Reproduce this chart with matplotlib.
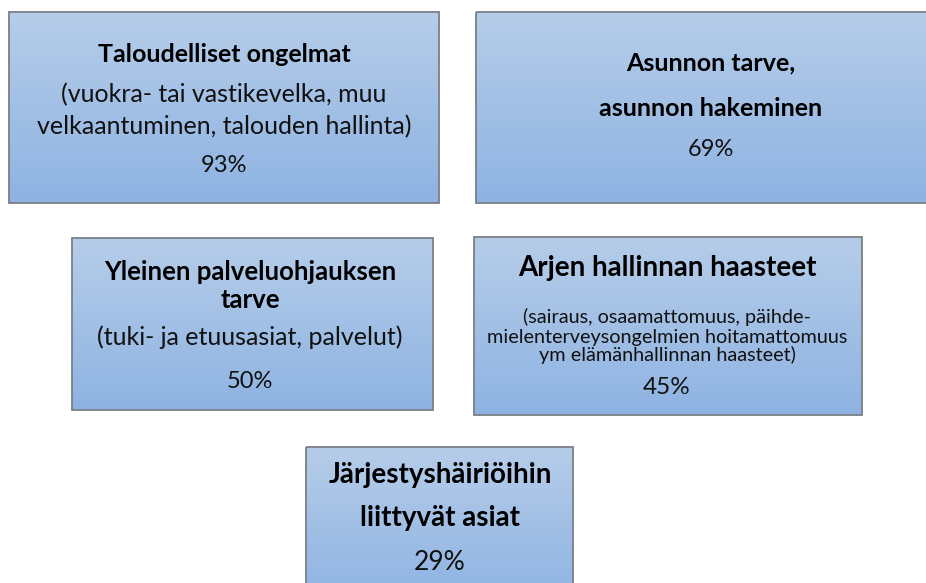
import matplotlib
matplotlib.use("Agg")
import matplotlib.pyplot as plt
import numpy as np
from matplotlib.patches import Rectangle
from matplotlib.colors import LinearSegmentedColormap

plt.rcParams['font.family'] = ['Lato', 'DejaVu Sans']

titles = ["Taloudelliset ongelmat", "Asunnon tarve,\nasunnon hakeminen",
          "Yleinen palveluohjauksen\ntarve", "Arjen hallinnan haasteet",
          "Järjestyshäiriöihin\nliittyvät asiat"]
details = ["(vuokra- tai vastikevelka, muu\nvelkaantuminen, talouden hallinta)", "",
           "(tuki- ja etuusasiat, palvelut)",
           "(sairaus, osaamattomuus, päihde-\nmielenterveysongelmien hoitamattomuus\nym elämänhallinnan haasteet)",
           ""]
shares = [93, 69, 50, 45, 29]

# layout (pixels): box x0, y0, x1, y1
boxes = [(9, 12, 439, 203), (476, 12, 940, 203), (72, 238, 433, 410),
         (474, 237, 862, 415), (306, 447, 573, 600)]
centers = [224, 711, 250, 667, 440]
title_y = [[55], [63, 108], [272, 300], [268], [475, 518]]
title_fs = [18, 18, 18.5, 20, 20]
detail_y = [[95, 127], [], [337], [317, 337, 355], []]
detail_fs = [18, 18, 18, 14.3, 18]
pct_y = [165, 150, 382, 388, 563]
pct_fs = [17, 17, 17, 17.5, 19]

W, H = 926, 583
fig = plt.figure(figsize=(W / 100, H / 100), dpi=100)
ax = fig.add_axes([0, 0, 1, 1])
ax.set_xlim(0, W)
ax.set_ylim(H, 0)
ax.axis('off')

cmap = LinearSegmentedColormap.from_list('g', ['#B6CDE9', '#8EB3E2'])
grad = np.linspace(0, 1, 256).reshape(-1, 1)

for i, (x0, y0, x1, y1) in enumerate(boxes):
    im = ax.imshow(grad, cmap=cmap, aspect='auto', extent=(x0, x1, y1, y0),
                   interpolation='bicubic', zorder=1)
    rect = Rectangle((x0, y0), x1 - x0, y1 - y0, facecolor='none',
                     edgecolor='#7A7F86', linewidth=1.3, zorder=2)
    ax.add_patch(rect)
    im.set_clip_path(rect)
    cx = centers[i]
    tl = titles[i].split("\n")
    for y, t in zip(title_y[i], tl):
        ax.text(cx, y, t, ha='center', va='center', fontsize=title_fs[i],
                fontweight='bold', color='#000000', zorder=3)
    dl = details[i].split("\n") if details[i] else []
    for y, t in zip(detail_y[i], dl):
        ax.text(cx, y, t, ha='center', va='center', fontsize=detail_fs[i],
                color='#111111', zorder=3)
    ax.text(cx, pct_y[i], f"{shares[i]}%", ha='center', va='center',
            fontsize=pct_fs[i], color='#111111', zorder=3)

fig.savefig('out.png', dpi=100)
